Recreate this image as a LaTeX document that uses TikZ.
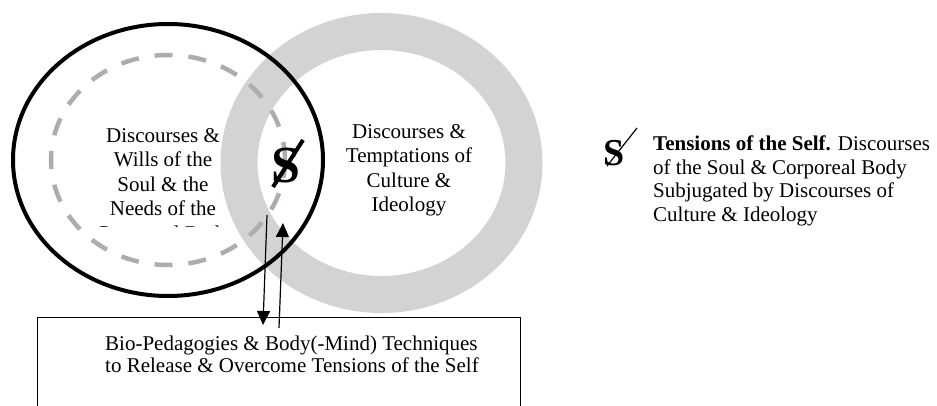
\documentclass[tikz,border=0pt]{standalone}
\usepackage{fontspec}
\setmainfont{Liberation Serif}
\usetikzlibrary{arrows.meta}
\definecolor{ringgray}{RGB}{211,211,211}
\definecolor{dashgray}{RGB}{176,172,172}
\begin{document}
\begin{tikzpicture}[x=1pt,y=-1pt,line join=round,>={Triangle[length=14pt,width=13pt]},
	txt/.style={font=\fontsize{21}{24.5}\selectfont,align=center,inner sep=0pt},
	thinline/.style={line width=1.2pt}]
	\useasboundingbox (0,0) rectangle (937,406);
	\clip (0,0) rectangle (937,406);
	% culture & ideology ring
	\draw[ringgray,line width=37pt] (381.5,163) ellipse [x radius=142.5,y radius=131.5];
	% soul & body
	\draw[line width=4pt] (168,160) ellipse [x radius=155,y radius=136];
	\draw[dashgray,line width=4.5pt,dash pattern=on 18pt off 16pt] (168,160) ellipse [x radius=117,y radius=105];
	\begin{scope}
		\clip (0,0) rectangle (937,227);
		\node[txt,anchor=north] (soul) at (163,128) {Discourses \&\\Wills of the\\Soul \& the\\Needs of the\\Corporeal Body};
	\end{scope}
	\node[txt,anchor=north] (culture) at (409,124) {Discourses \&\\Temptations of\\Culture \&\\Ideology};
	% tensions of the self
	\node[inner sep=0pt,font=\bfseries\fontsize{52}{52}\selectfont] (self) at (286,166) {S};
	\draw[line width=4pt] ([shift={(-13,21)}]self.center) -- ([shift={(17,-26)}]self.center);
	% key
	\node[inner sep=0pt,font=\bfseries\fontsize{38}{38}\selectfont] (key) at (614,153) {S};
	\draw[thinline] ([shift={(-7,13)}]key.center) -- ([shift={(23,-25)}]key.center);
	\node[txt,align=left,anchor=north west,font=\fontsize{21}{23.5}\selectfont] (keytext) at (653,136) {\textbf{Tensions of the Self.} Discourses\\of the Soul \& Corporeal Body\\Subjugated by Discourses of\\Culture \& Ideology};
	% techniques
	\node[draw,line width=1.3pt,minimum width=483pt,minimum height=150pt,anchor=north west,inner sep=0pt] (techbox) at (37,317) {};
	\node[txt,align=left,anchor=north west,font=\fontsize{21}{22.7}\selectfont] (techtext) at (105,335.5) {Bio-Pedagogies \& Body(-Mind) Techniques\\to Release \& Overcome Tensions of the Self};
	\coordinate (downtop) at (267,215);
	\coordinate (downtip) at (263,325);
	\coordinate (upfoot) at (279,328);
	\coordinate (uptip) at (283,223);
	\draw[->,thinline] (downtop) -- (downtip);
	\draw[->,thinline] (upfoot) -- (uptip);
\end{tikzpicture}
\end{document}
